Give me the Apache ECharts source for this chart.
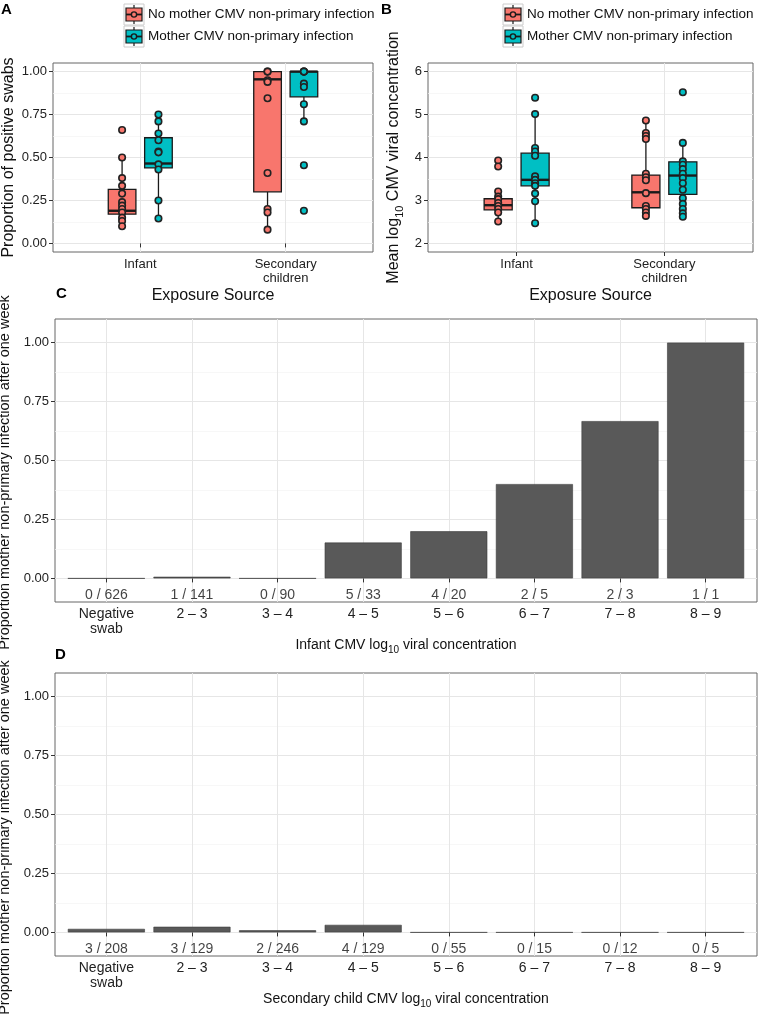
<!DOCTYPE html>
<html>
<head>
<meta charset="utf-8">
<script src="https://cdn.jsdelivr.net/npm/echarts@6/dist/echarts.min.js"></script>
<style>html,body{margin:0;padding:0;background:#fff}#chart{width:758px;height:1020px}</style>
</head>
<body>
<div id="chart"></div>
<script>
// ---------------- DATA ----------------
const exposureCats = ['Infant', 'Secondary\nchildren'];
const groupNames = ['No mother CMV non-primary infection', 'Mother CMV non-primary infection'];

// Panel A: proportion of positive swabs (individual points)
const propInfantNo  = [0.66, 0.50, 0.38, 0.335, 0.29, 0.24, 0.22, 0.20, 0.18, 0.15, 0.13, 0.10];
const propInfantYes = [0.75, 0.71, 0.64, 0.60, 0.535, 0.53, 0.46, 0.43, 0.25, 0.145];
const propSecNo     = [1.0, 1.0, 0.95, 0.94, 0.845, 0.41, 0.20, 0.18, 0.08];
const propSecYes    = [1.0, 1.0, 1.0, 0.93, 0.91, 0.81, 0.71, 0.455, 0.19];
// box stats: [lower whisker, Q1, median, Q3, upper whisker]
const propBoxInfantNo  = [0.10, 0.17, 0.19, 0.315, 0.50];
const propBoxInfantYes = [0.145, 0.44, 0.465, 0.615, 0.75];
const propBoxSecNo     = [0.08, 0.30, 0.955, 1.0, 1.0];
const propBoxSecYes    = [0.71, 0.853, 1.0, 1.0, 1.0];

// Panel B: mean log10 CMV viral concentration
const concInfantNo  = [3.93, 3.79, 3.21, 3.09, 3.03, 2.94, 2.87, 2.80, 2.72, 2.51];
const concInfantYes = [5.39, 5.01, 4.22, 4.14, 4.04, 3.56, 3.48, 3.40, 3.34, 3.16, 2.98, 2.47];
const concSecNo     = [4.86, 4.57, 4.50, 4.43, 3.62, 3.54, 3.47, 3.17, 2.87, 2.80, 2.72, 2.64];
const concSecYes    = [5.52, 4.34, 3.91, 3.83, 3.73, 3.62, 3.52, 3.40, 3.25, 3.05, 2.92, 2.80, 2.70, 2.62];
const concBoxInfantNo  = [2.51, 2.78, 2.89, 3.04, 3.21];
const concBoxInfantYes = [2.47, 3.34, 3.48, 4.10, 5.01];
const concBoxSecNo     = [2.62, 2.83, 3.19, 3.59, 4.86];
const concBoxSecYes    = [2.62, 3.14, 3.58, 3.90, 4.34];

// Panels C & D
const concBins = ['Negative\nswab', '2 \u2013 3', '3 \u2013 4', '4 \u2013 5', '5 \u2013 6', '6 \u2013 7', '7 \u2013 8', '8 \u2013 9'];
const infantProp   = [0, 0.007, 0, 0.152, 0.20, 0.40, 0.667, 1.0];
const infantCounts = ['0 / 626', '1 / 141', '0 / 90', '5 / 33', '4 / 20', '2 / 5', '2 / 3', '1 / 1'];
const secProp      = [0.015, 0.024, 0.009, 0.032, 0, 0, 0, 0];
const secCounts    = ['3 / 208', '3 / 129', '2 / 246', '4 / 129', '0 / 55', '0 / 15', '0 / 12', '0 / 5'];

const propTicks = [0, 0.25, 0.5, 0.75, 1];
const propMinor = [0.125, 0.375, 0.625, 0.875];
const concTicks = [2, 3, 4, 5, 6];
const concMinor = [2.5, 3.5, 4.5, 5.5];

// ---------------- STYLE ----------------
const FONT = '"Liberation Sans", Arial, Helvetica, sans-serif';
const RED = '#F8766D', CYAN = '#00BFC4', BAR = '#595959';
const GRID_MAJ = '#e6e6e6', GRID_MIN = '#f3f3f3', BORDER = '#666';
const DODGE = 0.125, BOX_W = 0.19, LABEL_Y = -0.07;

const chart = echarts.init(document.getElementById('chart'), null, {renderer: 'canvas'});

const grids = [
  {left: 53, top: 63, width: 320, height: 189},
  {left: 428, top: 63, width: 325, height: 189},
  {left: 55, top: 319, width: 702, height: 283},
  {left: 55, top: 673, width: 702, height: 283}
].map(g => Object.assign({show: true, borderColor: BORDER, borderWidth: 1, backgroundColor: 'transparent', containLabel: false, outerBoundsMode: 'none'}, g));

const subRich = (fs) => ({
  n: {fontFamily: FONT, fontSize: fs, color: '#111', lineHeight: fs + 3, verticalAlign: 'top'},
  sub: {fontFamily: FONT, fontSize: Math.round(fs * 0.68), color: '#111', lineHeight: 9, padding: [Math.round(fs * 0.52), 0, 0, 0], verticalAlign: 'top'}
});

function xAxisCfg(gi, min, max, vals, labels, name, nameGap, fs, nameFs) {
  return {
    gridIndex: gi, type: 'value', min: min, max: max,
    axisLine: {show: false},
    axisTick: {show: true, customValues: vals, length: 4, lineStyle: {color: '#333', width: 1}},
    axisLabel: {customValues: vals, formatter: v => labels[Math.round(v) - 1], fontFamily: FONT, fontSize: fs, color: '#222', lineHeight: fs + 1, margin: 5},
    splitLine: {show: true, lineStyle: {color: GRID_MAJ, width: 1}},
    name: name, nameLocation: 'middle', nameGap: nameGap,
    nameTextStyle: {fontFamily: FONT, fontSize: nameFs, color: '#111', rich: subRich(nameFs)}
  };
}
function yAxisCfg(gi, min, max, vals, fmt, name, nameGap, fs, nameFs, shift) {
  return {
    gridIndex: gi, type: 'value', min: min, max: max, position: 'left',
    axisLine: {show: false},
    axisTick: {show: true, customValues: vals, length: 4, lineStyle: {color: '#333', width: 1}},
    axisLabel: {customValues: vals, formatter: fmt, fontFamily: FONT, fontSize: fs, color: '#222', margin: 6},
    splitLine: {show: true, lineStyle: {color: GRID_MAJ, width: 1}},
    name: name, nameLocation: 'middle', nameGap: nameGap,
    nameTextStyle: {fontFamily: FONT, fontSize: nameFs, color: '#111', rich: subRich(nameFs), padding: [0, shift || 0, 0, 0]}
  };
}
function yMinorCfg(gi, min, max, vals) {
  return {
    gridIndex: gi, type: 'value', min: min, max: max, position: 'left',
    axisLine: {show: false}, axisLabel: {show: false},
    axisTick: {show: false, customValues: vals},
    splitLine: {show: true, lineStyle: {color: GRID_MIN, width: 0.7}}
  };
}

const xAxes = [
  xAxisCfg(0, 0.4, 2.6, [1, 2], exposureCats, 'Exposure Source', 36, 13, 16),
  xAxisCfg(1, 0.4, 2.6, [1, 2], exposureCats, 'Exposure Source', 36, 13, 16),
  xAxisCfg(2, 0.4, 8.6, [1, 2, 3, 4, 5, 6, 7, 8], concBins, '{n|Infant CMV log}{sub|10}{n| viral concentration}', 36, 14, 14),
  xAxisCfg(3, 0.4, 8.6, [1, 2, 3, 4, 5, 6, 7, 8], concBins, '{n|Secondary child CMV log}{sub|10}{n| viral concentration}', 35, 14, 14)
];
const f2 = v => v.toFixed(2);
const yAxes = [
  yAxisCfg(0, -0.05, 1.05, propTicks, f2, 'Proportion of positive swabs', 36, 13, 16),
  yMinorCfg(0, -0.05, 1.05, propMinor),
  yAxisCfg(1, 1.8, 6.2, concTicks, v => String(v), '{n|Mean log}{sub|10}{n| CMV viral concentration}', 23, 13, 16),
  yMinorCfg(1, 1.8, 6.2, concMinor),
  yAxisCfg(2, -0.1, 1.1, propTicks, f2, 'Proportion mother non-primary infection after one week', 36, 13, 14.5, 24),
  yMinorCfg(2, -0.1, 1.1, propMinor),
  yAxisCfg(3, -0.1, 1.1, propTicks, f2, 'Proportion mother non-primary infection after one week', 36, 13, 14.5, 46),
  yMinorCfg(3, -0.1, 1.1, propMinor)
];

// ---------- box plot custom renderer ----------
function renderBox(color) {
  return function (params, api) {
    const x = api.value(0);
    const lw = api.value(1), q1 = api.value(2), med = api.value(3), q3 = api.value(4), uw = api.value(5);
    const h = BOX_W / 2;
    const tl = api.coord([x - h, q3]), br = api.coord([x + h, q1]);
    const ml = api.coord([x - h, med]), mr = api.coord([x + h, med]);
    const pu = api.coord([x, uw]), p3 = api.coord([x, q3]), p1 = api.coord([x, q1]), pl = api.coord([x, lw]);
    const st = {stroke: '#1a1a1a', lineWidth: 1.3};
    return {
      type: 'group',
      children: [
        {type: 'line', shape: {x1: pu[0], y1: pu[1], x2: p3[0], y2: p3[1]}, style: st},
        {type: 'line', shape: {x1: p1[0], y1: p1[1], x2: pl[0], y2: pl[1]}, style: st},
        {type: 'rect', shape: {x: tl[0], y: tl[1], width: br[0] - tl[0], height: br[1] - tl[1]}, style: {fill: color, stroke: '#1a1a1a', lineWidth: 1.3}},
        {type: 'line', shape: {x1: ml[0], y1: ml[1], x2: mr[0], y2: mr[1]}, style: {stroke: '#1a1a1a', lineWidth: 2.4}}
      ]
    };
  };
}
function boxSeries(axisIdx, yIdx, color, items) {
  return {
    type: 'custom', xAxisIndex: axisIdx, yAxisIndex: yIdx, z: 2, silent: true,
    renderItem: renderBox(color),
    encode: {x: 0, y: [1, 2, 3, 4, 5]},
    data: items
  };
}
function pointSeries(axisIdx, yIdx, color, x, vals) {
  return {
    type: 'scatter', xAxisIndex: axisIdx, yAxisIndex: yIdx, z: 3, silent: true,
    symbol: 'circle', symbolSize: 6.5,
    itemStyle: {color: color, borderColor: '#222', borderWidth: 1.6, opacity: 1},
    data: vals.map(v => [x, v])
  };
}
function countSeries(axisIdx, yIdx, texts) {
  return {
    type: 'scatter', xAxisIndex: axisIdx, yAxisIndex: yIdx, z: 4, silent: true,
    symbolSize: 0,
    label: {show: true, position: 'inside', fontFamily: FONT, fontSize: 14, color: '#111'},
    data: texts.map((t, i) => ({value: [i + 1, LABEL_Y], label: {formatter: t}}))
  };
}
function barSeries(axisIdx, yIdx, vals) {
  return {
    type: 'bar', xAxisIndex: axisIdx, yAxisIndex: yIdx, z: 2, silent: true,
    barWidth: 77,
    itemStyle: {color: BAR, borderColor: '#3a3a3a', borderWidth: 0.6},
    data: vals.map((v, i) => [i + 1, v])
  };
}

const series = [
  // Panel A
  boxSeries(0, 0, RED,  [[1 - DODGE, ...propBoxInfantNo], [2 - DODGE, ...propBoxSecNo]]),
  boxSeries(0, 0, CYAN, [[1 + DODGE, ...propBoxInfantYes], [2 + DODGE, ...propBoxSecYes]]),
  pointSeries(0, 0, RED, 1 - DODGE, propInfantNo),
  pointSeries(0, 0, RED, 2 - DODGE, propSecNo),
  pointSeries(0, 0, CYAN, 1 + DODGE, propInfantYes),
  pointSeries(0, 0, CYAN, 2 + DODGE, propSecYes),
  // Panel B
  boxSeries(1, 2, RED,  [[1 - DODGE, ...concBoxInfantNo], [2 - DODGE, ...concBoxSecNo]]),
  boxSeries(1, 2, CYAN, [[1 + DODGE, ...concBoxInfantYes], [2 + DODGE, ...concBoxSecYes]]),
  pointSeries(1, 2, RED, 1 - DODGE, concInfantNo),
  pointSeries(1, 2, RED, 2 - DODGE, concSecNo),
  pointSeries(1, 2, CYAN, 1 + DODGE, concInfantYes),
  pointSeries(1, 2, CYAN, 2 + DODGE, concSecYes),
  // Panel C
  barSeries(2, 4, infantProp),
  countSeries(2, 4, infantCounts),
  // Panel D
  barSeries(3, 6, secProp),
  countSeries(3, 6, secCounts)
];

// ---------- legends & panel letters (graphic) ----------
function legendGraphic(keyX) {
  const els = [];
  [[RED, groupNames[0], 4], [CYAN, groupNames[1], 26]].forEach(([c, label, top]) => {
    const cx = keyX + 10, cy = top + 10.5;
    els.push({type: 'rect', shape: {x: keyX, y: top, width: 20, height: 21}, style: {fill: '#fff', stroke: '#cccccc', lineWidth: 1}});
    els.push({type: 'line', shape: {x1: cx, y1: top + 1, x2: cx, y2: top + 20}, style: {stroke: '#1a1a1a', lineWidth: 1.2}});
    els.push({type: 'rect', shape: {x: keyX + 2, y: top + 4, width: 16, height: 13}, style: {fill: c, stroke: '#1a1a1a', lineWidth: 1.2}});
    els.push({type: 'line', shape: {x1: keyX + 2, y1: cy, x2: keyX + 18, y2: cy}, style: {stroke: '#1a1a1a', lineWidth: 1.8}});
    els.push({type: 'circle', shape: {cx: cx, cy: cy, r: 2.6}, style: {fill: c, stroke: '#1a1a1a', lineWidth: 1.4}});
    els.push({type: 'text', x: keyX + 24, y: cy, style: {text: label, fontFamily: FONT, fontSize: 13.5, fill: '#111', textVerticalAlign: 'middle', textAlign: 'left'}});
  });
  return els;
}
const letter = (t, x, y) => ({type: 'text', x: x, y: y, style: {text: t, fontFamily: FONT, fontSize: 15, fontWeight: 'bold', fill: '#000', textVerticalAlign: 'middle'}});

const graphic = [
  ...legendGraphic(124),
  ...legendGraphic(503),
  letter('A', 1, 10),
  letter('B', 381, 10),
  letter('C', 56, 294),
  letter('D', 55, 655)
];

chart.setOption({
  animation: false,
  backgroundColor: '#fff',
  grid: grids,
  xAxis: xAxes,
  yAxis: yAxes,
  series: series,
  graphic: graphic
});
</script>
</body>
</html>
